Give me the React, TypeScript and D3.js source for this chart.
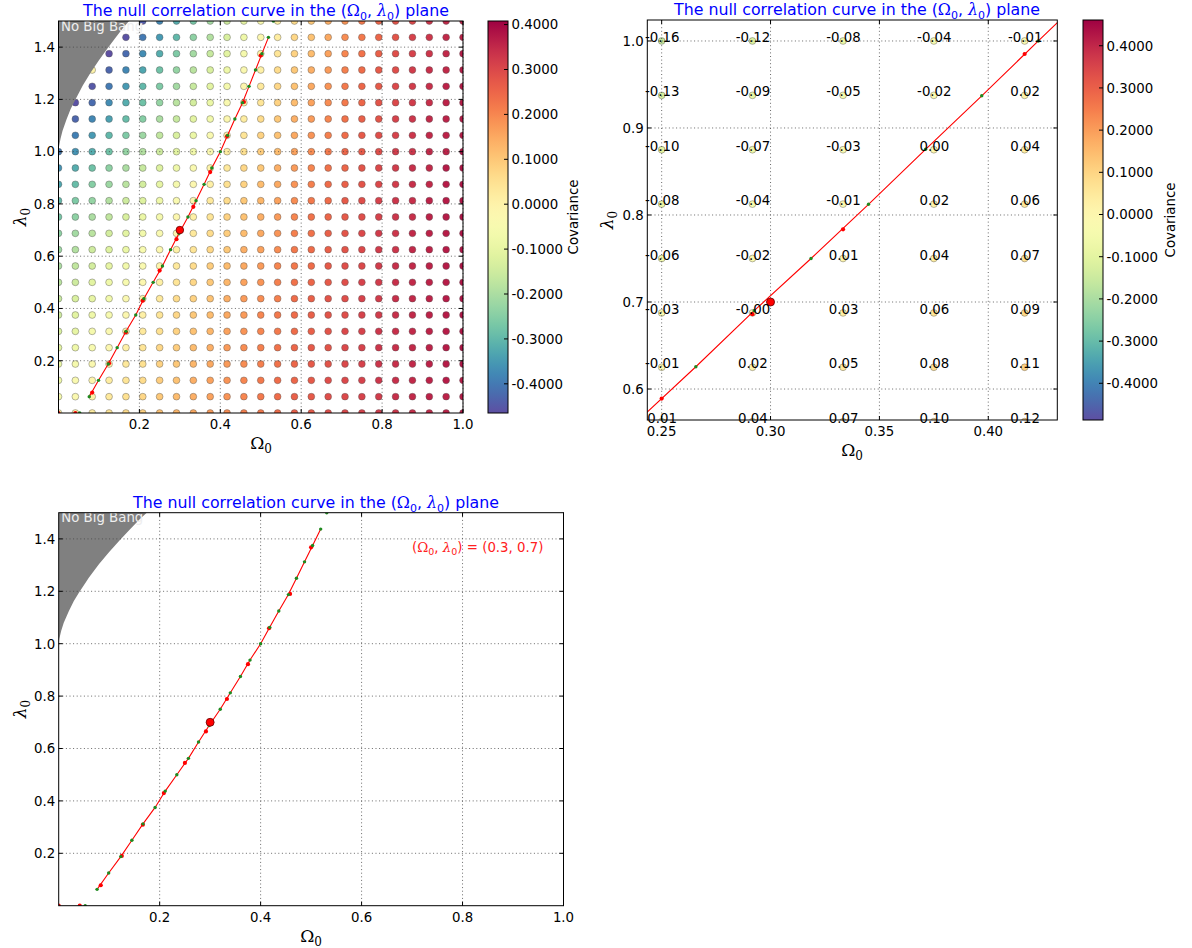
import React from "react";
import * as d3 from "d3";

// ---------- data: top-left panel (full grid of covariance values) ----------
const omegaGrid = [0, 0.0417, 0.0833, 0.125, 0.1667, 0.2083, 0.25, 0.2917, 0.3333, 0.375, 0.4167, 0.4583, 0.5,
  0.5417, 0.5833, 0.625, 0.6667, 0.7083, 0.75, 0.7917, 0.8333, 0.875, 0.9167, 0.9583, 1.0];
const lambdaGrid = [0, 0.0625, 0.125, 0.1875, 0.25, 0.3125, 0.375, 0.4375, 0.5, 0.5625, 0.625, 0.6875, 0.75,
  0.8125, 0.875, 0.9375, 1.0, 1.0625, 1.125, 1.1875, 1.25, 1.3125, 1.375, 1.4375, 1.5];
// rows: lambdaGrid index, columns: omegaGrid index (null = hidden inside the No Big Bang region)
const covariance: (number | null)[][] = [
  [-0.04, -0.01, 0.02, 0.04, 0.06, 0.08, 0.11, 0.13, 0.15, 0.17, 0.19, 0.21, 0.22, 0.24, 0.26, 0.27, 0.29, 0.30, 0.31, 0.32, 0.33, 0.34, 0.35, 0.36, 0.37],
  [-0.06, -0.03, 0.00, 0.03, 0.05, 0.07, 0.10, 0.12, 0.14, 0.16, 0.18, 0.20, 0.22, 0.24, 0.26, 0.27, 0.29, 0.30, 0.31, 0.32, 0.34, 0.35, 0.36, 0.36, 0.37],
  [-0.08, -0.04, -0.01, 0.02, 0.04, 0.06, 0.09, 0.11, 0.14, 0.16, 0.18, 0.20, 0.22, 0.24, 0.25, 0.27, 0.29, 0.30, 0.31, 0.33, 0.34, 0.35, 0.36, 0.37, 0.37],
  [-0.09, -0.06, -0.03, 0.00, 0.03, 0.05, 0.08, 0.10, 0.13, 0.15, 0.17, 0.19, 0.21, 0.23, 0.25, 0.27, 0.28, 0.30, 0.31, 0.33, 0.34, 0.35, 0.36, 0.37, 0.38],
  [-0.11, -0.08, -0.05, -0.02, 0.01, 0.04, 0.07, 0.09, 0.12, 0.14, 0.17, 0.19, 0.21, 0.23, 0.25, 0.27, 0.28, 0.30, 0.31, 0.33, 0.34, 0.35, 0.36, 0.37, 0.38],
  [-0.13, -0.10, -0.06, -0.03, 0.00, 0.03, 0.05, 0.08, 0.11, 0.13, 0.16, 0.18, 0.20, 0.22, 0.24, 0.26, 0.28, 0.30, 0.31, 0.33, 0.34, 0.35, 0.36, 0.37, 0.38],
  [-0.15, -0.11, -0.08, -0.05, -0.02, 0.01, 0.04, 0.07, 0.10, 0.12, 0.15, 0.17, 0.20, 0.22, 0.24, 0.26, 0.28, 0.29, 0.31, 0.32, 0.34, 0.35, 0.36, 0.37, 0.38],
  [-0.16, -0.13, -0.10, -0.07, -0.03, 0.00, 0.03, 0.06, 0.08, 0.11, 0.14, 0.17, 0.19, 0.21, 0.24, 0.26, 0.28, 0.29, 0.31, 0.32, 0.34, 0.35, 0.36, 0.37, 0.38],
  [-0.18, -0.15, -0.11, -0.08, -0.05, -0.02, 0.01, 0.04, 0.07, 0.10, 0.13, 0.16, 0.18, 0.21, 0.23, 0.25, 0.27, 0.29, 0.31, 0.32, 0.34, 0.35, 0.36, 0.37, 0.38],
  [-0.20, -0.17, -0.14, -0.10, -0.07, -0.04, -0.01, 0.03, 0.06, 0.09, 0.12, 0.15, 0.17, 0.20, 0.22, 0.24, 0.27, 0.29, 0.30, 0.32, 0.34, 0.35, 0.36, 0.37, 0.38],
  [-0.22, -0.19, -0.15, -0.12, -0.09, -0.05, -0.02, 0.01, 0.04, 0.07, 0.10, 0.14, 0.16, 0.19, 0.22, 0.24, 0.26, 0.28, 0.30, 0.32, 0.33, 0.35, 0.36, 0.37, 0.38],
  [-0.24, -0.21, -0.18, -0.14, -0.11, -0.07, -0.04, -0.01, 0.03, 0.06, 0.09, 0.12, 0.15, 0.18, 0.21, 0.23, 0.26, 0.28, 0.30, 0.32, 0.33, 0.35, 0.36, 0.37, 0.38],
  [-0.27, -0.24, -0.20, -0.17, -0.13, -0.09, -0.06, -0.02, 0.01, 0.04, 0.08, 0.11, 0.14, 0.17, 0.20, 0.23, 0.25, 0.27, 0.29, 0.31, 0.33, 0.34, 0.36, 0.37, 0.38],
  [-0.30, -0.26, -0.23, -0.19, -0.15, -0.12, -0.08, -0.04, -0.01, 0.03, 0.06, 0.10, 0.13, 0.16, 0.19, 0.22, 0.24, 0.27, 0.29, 0.31, 0.33, 0.34, 0.36, 0.37, 0.38],
  [-0.33, -0.29, -0.25, -0.22, -0.18, -0.14, -0.10, -0.06, -0.02, 0.01, 0.05, 0.08, 0.12, 0.15, 0.18, 0.21, 0.24, 0.26, 0.28, 0.30, 0.32, 0.34, 0.35, 0.37, 0.38],
  [-0.36, -0.32, -0.28, -0.24, -0.20, -0.16, -0.12, -0.08, -0.04, -0.00, 0.03, 0.07, 0.10, 0.14, 0.17, 0.20, 0.23, 0.25, 0.28, 0.30, 0.32, 0.34, 0.35, 0.37, 0.38],
  [-0.40, -0.36, -0.32, -0.28, -0.23, -0.19, -0.15, -0.11, -0.07, -0.03, 0.02, 0.05, 0.09, 0.12, 0.16, 0.19, 0.22, 0.25, 0.27, 0.29, 0.32, 0.33, 0.35, 0.36, 0.38],
  [null, -0.39, -0.35, -0.30, -0.26, -0.22, -0.17, -0.13, -0.09, -0.04, 0.00, 0.04, 0.08, 0.11, 0.15, 0.18, 0.21, 0.24, 0.27, 0.29, 0.31, 0.33, 0.35, 0.36, 0.37],
  [null, -0.43, -0.38, -0.34, -0.29, -0.25, -0.20, -0.16, -0.11, -0.07, -0.02, 0.02, 0.06, 0.10, 0.14, 0.17, 0.20, 0.23, 0.26, 0.28, 0.31, 0.33, 0.35, 0.36, 0.37],
  [null, -0.46, -0.42, -0.37, -0.32, -0.28, -0.23, -0.18, -0.14, -0.09, -0.04, 0.00, 0.04, 0.08, 0.12, 0.16, 0.19, 0.22, 0.25, 0.28, 0.30, 0.32, 0.34, 0.36, 0.37],
  [null, null, -0.45, -0.40, -0.35, -0.30, -0.26, -0.21, -0.16, -0.11, -0.06, -0.01, 0.03, 0.07, 0.11, 0.15, 0.18, 0.22, 0.25, 0.27, 0.30, 0.32, 0.34, 0.36, 0.37],
  [null, null, 0.00, -0.43, -0.38, -0.33, -0.28, -0.23, -0.18, -0.13, -0.08, -0.03, 0.01, 0.06, 0.10, 0.14, 0.17, 0.21, 0.24, 0.27, 0.29, 0.32, 0.34, 0.35, 0.37],
  [null, null, null, -0.47, -0.42, -0.37, -0.32, -0.26, -0.21, -0.16, -0.11, -0.06, -0.00, 0.04, 0.08, 0.12, 0.16, 0.20, 0.23, 0.26, 0.29, 0.31, 0.33, 0.35, 0.37],
  [null, null, null, null, -0.46, -0.40, -0.35, -0.30, -0.24, -0.19, -0.13, -0.08, -0.02, 0.02, 0.07, 0.11, 0.15, 0.19, 0.22, 0.25, 0.28, 0.31, 0.33, 0.35, 0.36],
  [null, null, null, null, null, -0.44, -0.38, -0.32, -0.27, -0.21, -0.15, -0.10, -0.04, 0.01, 0.06, 0.10, 0.14, 0.18, 0.22, 0.25, 0.28, 0.30, 0.33, 0.35, 0.36],
];
const covDomain = [-0.465, 0.408];

// null correlation curve (zero crossings along grid rows: green; along grid columns: red)
const rowCrossOmega = [0.0525, 0.076, 0.099, 0.123, 0.145, 0.167, 0.191, 0.211, 0.234, 0.257, 0.277, 0.298, 0.32,
  0.34, 0.36, 0.379, 0.4, 0.418, 0.436, 0.455, 0.471, 0.487, 0.503, 0.519, 0.531];
const rowCrossLambda = [0, 0.0625, 0.125, 0.1875, 0.25, 0.3125, 0.375, 0.4375, 0.5, 0.5625, 0.625, 0.6875, 0.75,
  0.8125, 0.875, 0.9375, 1.0, 1.0625, 1.125, 1.1875, 1.25, 1.3125, 1.375, 1.4375, 1.5];
const colCrossOmega = [0, 0.0417, 0.0833, 0.125, 0.1667, 0.2083, 0.25, 0.2917, 0.3333, 0.375, 0.4167, 0.4583, 0.5];
const colCrossLambda = [0, 0, 0.078, 0.19, 0.309, 0.43, 0.545, 0.665, 0.789, 0.922, 1.059, 1.19, 1.368];
const fiducialOmega = 0.3;
const fiducialLambda = 0.7;

// No Big Bang boundary
const nbbOmega = [0, 0.001, 0.005, 0.01, 0.02, 0.03, 0.04, 0.06, 0.08, 0.1, 0.12, 0.14, 0.16, 0.18];
const nbbLambda = [1.0, 1.017, 1.049, 1.08, 1.124, 1.163, 1.194, 1.253, 1.304, 1.35, 1.393, 1.434, 1.474, 1.51];

// ---------- data: top-right zoomed panel ----------
const zoomOmega = [0.25, 0.2917, 0.3333, 0.375, 0.4167];
const zoomLambda = [1.0, 0.9375, 0.875, 0.8125, 0.75, 0.6875, 0.625, 0.5625];
const zoomCov = [
  [-0.16, -0.12, -0.08, -0.04, -0.01],
  [-0.13, -0.09, -0.05, -0.02, 0.02],
  [-0.10, -0.07, -0.03, 0.002, 0.04],
  [-0.08, -0.04, -0.01, 0.02, 0.06],
  [-0.06, -0.02, 0.01, 0.04, 0.07],
  [-0.03, -0.004, 0.03, 0.06, 0.09],
  [-0.01, 0.02, 0.05, 0.08, 0.11],
  [0.01, 0.04, 0.07, 0.10, 0.12],
];
const zoomCovDomain = [-0.487, 0.461];
const zoomRowCrossOmega = [0.2386, 0.2657, 0.2925, 0.3186, 0.345, 0.3712, 0.397, 0.423, 0.449];
const zoomRowCrossLambda = [0.5625, 0.6256, 0.69, 0.75, 0.8123, 0.8755, 0.937, 1.0, 1.0625];
const zoomColCrossOmega = [0.25, 0.2917, 0.3333, 0.4167];
const zoomColCrossLambda = [0.589, 0.686, 0.7835, 0.985];

// ticks
const fullXTicks = [0.2, 0.4, 0.6, 0.8, 1.0];
const fullYTicks = [0.2, 0.4, 0.6, 0.8, 1.0, 1.2, 1.4];
const zoomXTicks = [0.25, 0.3, 0.35, 0.4];
const zoomYTicks = [0.6, 0.7, 0.8, 0.9, 1.0];
const cbTicks = [-0.4, -0.3, -0.2, -0.1, 0, 0.1, 0.2, 0.3, 0.4];

const FONT = "'DejaVu Sans', sans-serif";
const SERIF = "'DejaVu Serif', serif";
const FS = 13.33;

type Scale = d3.ScaleLinear<number, number>;

function spectralR(domain: number[]) {
  return (v: number) => d3.interpolateSpectral(1 - (v - domain[0]) / (domain[1] - domain[0]));
}

function Axes(props: {
  id: string; x: Scale; y: Scale; xTicks: number[]; yTicks: number[]; xDig: number; yDig: number;
  under: React.ReactNode; over: React.ReactNode; free?: React.ReactNode;
}) {
  const { id, x, y, xTicks, yTicks, xDig, yDig } = props;
  const [l, r] = x.range();
  const [b, t] = y.range();
  return (
    <g>
      <defs>
        <clipPath id={id}>
          <rect x={l} y={t} width={r - l} height={b - t} />
        </clipPath>
      </defs>
      <rect x={l} y={t} width={r - l} height={b - t} fill="#fff" />
      <g clipPath={`url(#${id})`}>{props.under}</g>
      <g stroke="#444" strokeWidth={0.8} strokeDasharray="1,2.6">
        {xTicks.map((v) => (
          <line key={"gx" + v} x1={x(v)} x2={x(v)} y1={t} y2={b} />
        ))}
        {yTicks.map((v) => (
          <line key={"gy" + v} x1={l} x2={r} y1={y(v)} y2={y(v)} />
        ))}
      </g>
      <g clipPath={`url(#${id})`}>{props.over}</g>
      <rect x={l} y={t} width={r - l} height={b - t} fill="none" stroke="#000" strokeWidth={1} />
      <g stroke="#000" strokeWidth={1}>
        {xTicks.map((v) => (
          <g key={"tx" + v}>
            <line x1={x(v)} x2={x(v)} y1={b} y2={b - 4} />
            <line x1={x(v)} x2={x(v)} y1={t} y2={t + 4} />
          </g>
        ))}
        {yTicks.map((v) => (
          <g key={"ty" + v}>
            <line x1={l} x2={l + 4} y1={y(v)} y2={y(v)} />
            <line x1={r} x2={r - 4} y1={y(v)} y2={y(v)} />
          </g>
        ))}
      </g>
      <g fontFamily={FONT} fontSize={FS} fill="#000">
        {xTicks.map((v) => (
          <text key={"lx" + v} x={x(v)} y={b + 16} textAnchor="middle">
            {v.toFixed(xDig)}
          </text>
        ))}
        {yTicks.map((v) => (
          <text key={"ly" + v} x={l - 3.5} y={y(v) + 4.8} textAnchor="end">
            {v.toFixed(yDig)}
          </text>
        ))}
      </g>
      {props.free}
    </g>
  );
}

function Colorbar(props: { id: string; x: number; top: number; bottom: number; domain: number[]; labelX: number }) {
  const { id, x, top, bottom, domain, labelX } = props;
  const w = 20;
  const s = d3.scaleLinear().domain(domain).range([bottom, top]);
  const stops = d3.range(0, 1.0001, 0.025);
  return (
    <g>
      <defs>
        <linearGradient id={id} x1="0" y1="0" x2="0" y2="1">
          {stops.map((p) => (
            <stop key={p} offset={p} stopColor={d3.interpolateSpectral(p)} />
          ))}
        </linearGradient>
      </defs>
      <rect x={x} y={top} width={w} height={bottom - top} fill={`url(#${id})`} stroke="#000" strokeWidth={1} />
      {cbTicks.map((v) => (
        <g key={v}>
          <line x1={x + w - 4} x2={x + w} y1={s(v)} y2={s(v)} stroke="#000" strokeWidth={1} />
          <text x={x + w + 3.5} y={s(v) + 4.8} fontFamily={FONT} fontSize={FS}>
            {v.toFixed(4)}
          </text>
        </g>
      ))}
      <text
        transform={`translate(${labelX},${(top + bottom) / 2}) rotate(-90)`}
        textAnchor="middle"
        fontFamily={FONT}
        fontSize={FS}
      >
        Covariance
      </text>
    </g>
  );
}

function Title(props: { x: number; y: number }) {
  return (
    <text x={props.x} y={props.y} textAnchor="middle" fontFamily={FONT} fontSize={15.8} fill="#0000ff">
      The null correlation curve in the (<tspan fontFamily={SERIF}>Ω</tspan>
      <tspan fontSize={11} dy={4}>0</tspan>
      <tspan dy={-4}>, </tspan>
      <tspan fontFamily={SERIF} fontStyle="italic">λ</tspan>
      <tspan fontSize={11} dy={4}>0</tspan>
      <tspan dy={-4}>) plane</tspan>
    </text>
  );
}

function XLabel(props: { x: number; y: number }) {
  return (
    <text x={props.x} y={props.y} textAnchor="middle" fontFamily={SERIF} fontSize={17}>
      Ω<tspan fontSize={12} dy={4}>0</tspan>
    </text>
  );
}

function YLabel(props: { x: number; y: number }) {
  return (
    <text transform={`translate(${props.x},${props.y}) rotate(-90)`} textAnchor="middle" fontFamily={SERIF} fontSize={17}>
      <tspan fontStyle="italic">λ</tspan>
      <tspan fontSize={12} dy={4}>0</tspan>
    </text>
  );
}

function NullCurve(props: { x: Scale; y: Scale; rowO: number[]; rowL: number[]; colO: number[]; colL: number[]; lineFrom: number; lineTo: number; big: number }) {
  const { x, y, rowO, rowL, colO, colL, lineFrom, lineTo, big } = props;
  const pts = rowO.map((o, i) => [o, rowL[i]] as [number, number]).slice(lineFrom, lineTo + 1);
  const line = d3.line<[number, number]>().x((d) => x(d[0])).y((d) => y(d[1]));
  return (
    <g>
      <path d={line(pts) || ""} fill="none" stroke="#ff0000" strokeWidth={1.1} />
      {colO.map((o, i) => (
        <circle key={"r" + i} cx={x(o)} cy={y(colL[i])} r={2.1} fill="#ff0000" />
      ))}
      {rowO.map((o, i) => (
        <circle key={"g" + i} cx={x(o)} cy={y(rowL[i])} r={1.7} fill="#1f8a1f" />
      ))}
      <circle cx={x(fiducialOmega)} cy={y(fiducialLambda)} r={big} fill="#ff0000" stroke="#600" strokeWidth={0.8} />
    </g>
  );
}

function NoBigBang(props: { x: Scale; y: Scale }) {
  const { x, y } = props;
  const pts: [number, number][] = nbbOmega.map((o, i) => [o, nbbLambda[i]]);
  pts.push([0, 1.51]);
  const d = "M" + pts.map((p) => `${x(p[0])},${y(p[1])}`).join("L") + "Z";
  const [l] = x.range();
  const [, t] = y.range();
  return (
    <g>
      <path d={d} fill="#808080" />
      <text x={l + 2.5} y={t + 9.5} fontFamily={FONT} fontSize={FS} fill="#eeeeee">
        No Big Bang
      </text>
    </g>
  );
}

export default function App() {
  // panel 1 (top-left)
  const x1 = d3.scaleLinear().domain([0, 1]).range([58.5, 463]);
  const y1 = d3.scaleLinear().domain([0, 1.5]).range([413, 21]);
  const c1 = spectralR(covDomain);
  // panel 2 (top-right)
  const x2 = d3.scaleLinear().domain([0.2434, 0.4317]).range([647.3, 1057.3]);
  const y2 = d3.scaleLinear().domain([0.5644, 1.0241]).range([420, 20]);
  const c2 = spectralR(zoomCovDomain);
  // panel 3 (bottom)
  const x3 = d3.scaleLinear().domain([0, 1]).range([58.7, 563.5]);
  const y3 = d3.scaleLinear().domain([0, 1.5]).range([905.7, 512.7]);

  const dots1: React.ReactNode[] = [];
  covariance.forEach((row, j) =>
    row.forEach((v, i) => {
      if (v === null) return;
      dots1.push(
        <circle key={`${i}-${j}`} cx={x1(omegaGrid[i])} cy={y1(lambdaGrid[j])} r={3.4} fill={c1(v)} stroke="#555" strokeOpacity={0.7} strokeWidth={0.6} />
      );
    })
  );

  const dots2: React.ReactNode[] = [];
  const labels2: React.ReactNode[] = [];
  zoomCov.forEach((row, j) =>
    row.forEach((v, i) => {
      const cx = x2(zoomOmega[i]);
      const cy = y2(zoomLambda[j]);
      dots2.push(<circle key={`${i}-${j}`} cx={cx} cy={cy} r={3.4} fill={c2(v)} stroke="#555" strokeOpacity={0.7} strokeWidth={0.6} />);
      labels2.push(
        <text key={`t${i}-${j}`} x={cx + 0.5} y={cy + 1} textAnchor="middle" fontFamily={FONT} fontSize={FS}>
          {v.toFixed(2)}
        </text>
      );
    })
  );

  return (
    <svg width={1192} height={948} style={{ position: "absolute", left: 0, top: 0, background: "#fff" }}>
      <rect width={1192} height={948} fill="#fff" />

      {/* Panel 1 */}
      <Axes
        id="clip1"
        x={x1}
        y={y1}
        xTicks={fullXTicks}
        yTicks={fullYTicks}
        xDig={1}
        yDig={1}
        under={
          <g>
            {dots1}
            <NoBigBang x={x1} y={y1} />
          </g>
        }
        over={<NullCurve x={x1} y={y1} rowO={rowCrossOmega} rowL={rowCrossLambda} colO={colCrossOmega} colL={colCrossLambda} lineFrom={1} lineTo={23} big={3.8} />}
      />
      <Title x={266} y={16} />
      <XLabel x={261} y={449} />
      <YLabel x={26} y={217} />
      <Colorbar id="cb1" x={488} top={21} bottom={413} domain={covDomain} labelX={578} />

      {/* Panel 2 */}
      <Axes
        id="clip2"
        x={x2}
        y={y2}
        xTicks={zoomXTicks}
        yTicks={zoomYTicks}
        xDig={2}
        yDig={1}
        under={<g>{dots2}</g>}
        over={<NullCurve x={x2} y={y2} rowO={zoomRowCrossOmega} rowL={zoomRowCrossLambda} colO={zoomColCrossOmega} colL={zoomColCrossLambda} lineFrom={0} lineTo={8} big={4} />}
        free={<g>{labels2}</g>}
      />
      <Title x={857} y={15} />
      <XLabel x={852} y={456} />
      <YLabel x={613} y={220} />
      <Colorbar id="cb2" x={1083} top={20} bottom={420} domain={zoomCovDomain} labelX={1175} />

      {/* Panel 3 */}
      <Axes
        id="clip3"
        x={x3}
        y={y3}
        xTicks={fullXTicks}
        yTicks={fullYTicks}
        xDig={1}
        yDig={1}
        under={<NoBigBang x={x3} y={y3} />}
        over={<NullCurve x={x3} y={y3} rowO={rowCrossOmega} rowL={rowCrossLambda} colO={colCrossOmega} colL={colCrossLambda} lineFrom={1} lineTo={23} big={4} />}
        free={
          <text x={x3(0.7)} y={y3(1.35)} fontFamily={FONT} fontSize={FS} fill="#ff2020">
            (<tspan fontFamily={SERIF}>Ω</tspan>
            <tspan fontSize={9.5} dy={3}>0</tspan>
            <tspan dy={-3}>, </tspan>
            <tspan fontFamily={SERIF} fontStyle="italic">λ</tspan>
            <tspan fontSize={9.5} dy={3}>0</tspan>
            <tspan dy={-3}>) = (0.3, 0.7)</tspan>
          </text>
        }
      />
      <Title x={316} y={508} />
      <XLabel x={311} y={942} />
      <YLabel x={26} y={709} />
    </svg>
  );
}
